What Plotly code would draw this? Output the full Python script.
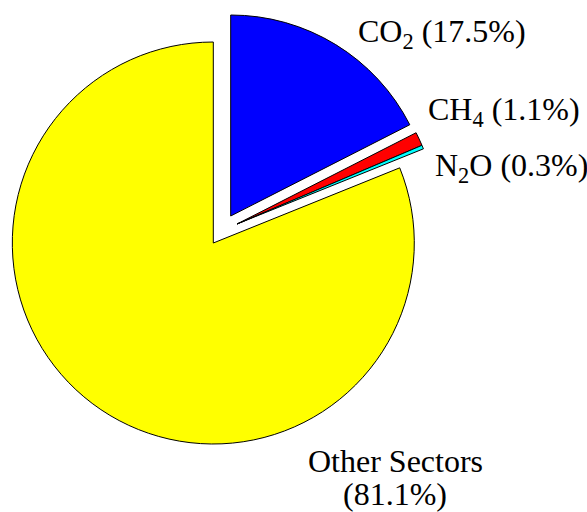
import plotly.graph_objects as go

# ---- data ----
labels = ["CO<sub>2</sub>", "CH<sub>4</sub>", "N<sub>2</sub>O", "Other Sectors"]
shares = [17.5, 1.1, 0.3, 81.1]
colors = ["#0000FF", "#FF0000", "#00FFFF", "#FFFF00"]

# ---- layout constants (pixels) ----
W, H = 587, 512
R = 201
# groups of slices drawn with their own (exploded) centre
groups = [
    ([3], (213.3, 243.0)),   # Other Sectors (not exploded)
    ([0], (230.7, 216.0)),   # CO2 exploded
    ([1, 2], (237.0, 224.0)),  # CH4, N2O exploded
]

fig = go.Figure()
for idx, (cx, cy) in groups:
    col = [colors[i] if i in idx else "rgba(0,0,0,0)" for i in range(len(shares))]
    lw = [1 if i in idx else 0 for i in range(len(shares))]
    fig.add_trace(go.Pie(
        labels=labels, values=shares, sort=False, direction="clockwise", rotation=0,
        marker=dict(colors=col, line=dict(color="#000000", width=lw)),
        textinfo="none", hoverinfo="skip", showlegend=False,
        domain=dict(x=[(cx - R) / W, (cx + R) / W],
                    y=[1 - (cy + R) / H, 1 - (cy - R) / H]),
    ))

font = dict(family="Liberation Serif, Times New Roman, serif", size=32, color="#000000")

def px(x):
    return x / W

def py(y):
    return 1 - y / H

# (text, x, y-centre, anchor)
label_items = [
    (f"{labels[0]} ({shares[0]}%)", 356, 33, "left"),
    (f"{labels[1]} ({shares[1]}%)", 426, 111, "left"),
    (f"{labels[2]} ({shares[2]}%)", 433, 167, "left"),
    (labels[3], 395, 460.5, "center"),
    (f"({shares[3]}%)", 395, 494, "center"),
]
for txt, x, y, anc in label_items:
    fig.add_annotation(x=px(x), y=py(y), xref="paper", yref="paper", text=txt,
                       showarrow=False, xanchor=anc, yanchor="middle", font=font,
                       align="center")

fig.update_layout(width=W, height=H, margin=dict(l=0, r=0, t=0, b=0),
                  paper_bgcolor="white", plot_bgcolor="white")
fig.write_html("out.html")
